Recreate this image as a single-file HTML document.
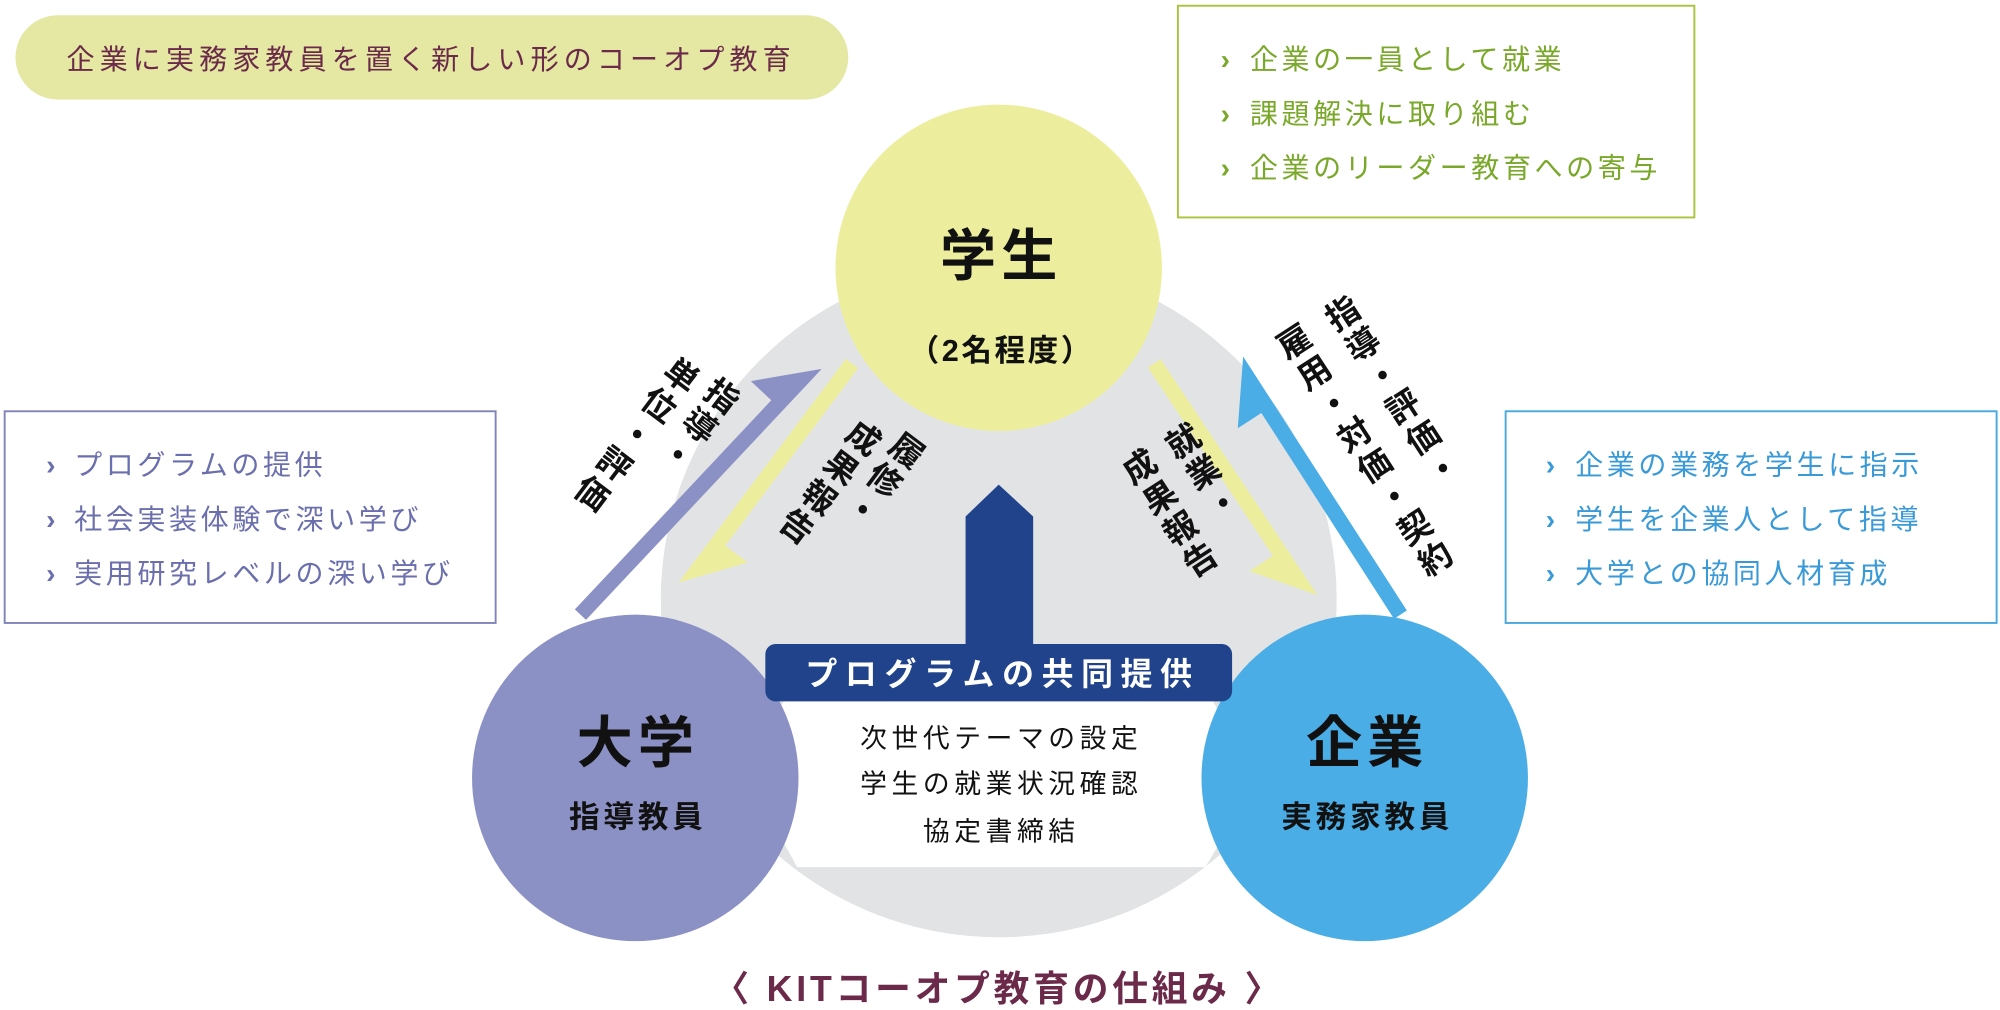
<!DOCTYPE html>
<html><head><meta charset="utf-8">
<style>
html,body{margin:0;padding:0;background:#fff;}
svg{display:block;}
text{font-family:"Liberation Sans","Noto Sans CJK JP",sans-serif;}
.v{writing-mode:vertical-rl;}
</style></head>
<body>
<svg width="2000" height="1010" viewBox="0 0 1568 792" xmlns="http://www.w3.org/2000/svg">
<rect x="12" y="12" width="653" height="66" rx="33" fill="#e4e8a2"/>
<text x="52" y="54" font-size="22" letter-spacing="4" fill="#6b2a4a">企業に実務家教員を置く新しい形のコーオプ教育</text>

<rect x="923.5" y="4.5" width="405" height="166" fill="#fff" stroke="#a8c43c" stroke-width="1.5"/>
<g font-size="22" fill="#7aa82a" letter-spacing="2.8">
<text x="957" y="54" font-weight="bold">›</text><text x="980" y="54">企業の一員として就業</text>
<text x="957" y="97" font-weight="bold">›</text><text x="980" y="97">課題解決に取り組む</text>
<text x="957" y="139" font-weight="bold">›</text><text x="980" y="139">企業のリーダー教育への寄与</text>
</g>

<rect x="3.5" y="322.5" width="385" height="166" fill="#fff" stroke="#8084bb" stroke-width="1.5"/>
<g font-size="22" fill="#6b6fad" letter-spacing="2.8">
<text x="36" y="372" font-weight="bold">›</text><text x="58" y="372">プログラムの提供</text>
<text x="36" y="415" font-weight="bold">›</text><text x="58" y="415">社会実装体験で深い学び</text>
<text x="36" y="457" font-weight="bold">›</text><text x="58" y="457">実用研究レベルの深い学び</text>
</g>

<rect x="1180.5" y="322.5" width="385" height="166" fill="#fff" stroke="#4aa8e0" stroke-width="1.5"/>
<g font-size="22" fill="#3a9ad8" letter-spacing="2.8">
<text x="1212" y="372" font-weight="bold">›</text><text x="1235" y="372">企業の業務を学生に指示</text>
<text x="1212" y="415" font-weight="bold">›</text><text x="1235" y="415">学生を企業人として指導</text>
<text x="1212" y="457" font-weight="bold">›</text><text x="1235" y="457">大学との協同人材育成</text>
</g>

<circle cx="783" cy="470" r="265" fill="#e2e3e5"/>
<circle cx="783" cy="210" r="128" fill="#ecee9d"/>

<g transform="translate(455,482) rotate(-46.8)">
<path d="M0,-6 L225,-6 L225,-28 L270,6 L0,6 Z" fill="#8b91c4"/>
</g>
<g transform="translate(668,285) rotate(126.8)">
<path d="M0,-6 L174,-6 L174,-28 L219,6 L0,6 Z" fill="#ecee9d"/>
</g>
<g transform="translate(905,285) rotate(56.4) scale(1,-1)">
<path d="M0,-6 L177,-6 L177,-28 L222,6 L0,6 Z" fill="#ecee9d"/>
</g>
<g transform="translate(1098,482) rotate(-122.8)">
<path d="M0,-6 L192,-6 L192,-28 L237,6 L0,6 Z" fill="#4aade6"/>
</g>

<polygon points="757,510 757,405 783,380 810,405 810,510" fill="#21438b"/>
<polygon points="588,613 615,548 950,548 985,613 945,680 625,680" fill="#fff"/>

<circle cx="498" cy="610" r="128" fill="#8b91c4"/>
<circle cx="1070" cy="610" r="128" fill="#4aade6"/>

<rect x="600" y="505" width="366" height="45" rx="8" fill="#21438b"/>
<text x="786" y="537" font-size="25" font-weight="bold" letter-spacing="6" fill="#fff" text-anchor="middle">プログラムの共同提供</text>

<g font-size="21" fill="#111" text-anchor="middle" letter-spacing="3.6">
<text x="785" y="586">次世代テーマの設定</text>
<text x="785" y="622">学生の就業状況確認</text>
<text x="785" y="659">協定書締結</text>
</g>

<text x="785" y="216" font-size="44" font-weight="bold" letter-spacing="4" text-anchor="middle" fill="#111">学生</text>
<text x="785" y="283" font-size="24" font-weight="bold" letter-spacing="2" text-anchor="middle" fill="#111">（2名程度）</text>
<text x="500" y="598" font-size="44" font-weight="bold" letter-spacing="4" text-anchor="middle" fill="#111">大学</text>
<text x="500" y="649" font-size="24" font-weight="bold" letter-spacing="3" text-anchor="middle" fill="#111">指導教員</text>
<text x="1072" y="598" font-size="44" font-weight="bold" letter-spacing="4" text-anchor="middle" fill="#111">企業</text>
<text x="1072" y="649" font-size="24" font-weight="bold" letter-spacing="3" text-anchor="middle" fill="#111">実務家教員</text>

<g font-size="26" font-weight="bold" fill="#111" letter-spacing="3">
<text class="v" x="1043" y="236" transform="rotate(-33 1043 236)">指導・評価・</text>
<text class="v" x="1005" y="258" transform="rotate(-33 1005 258)">雇用・対価・契約</text>
<text class="v" x="918" y="336" transform="rotate(-33 918 336)">就業・</text>
<text class="v" x="884" y="356" transform="rotate(-33 884 356)">成果報告</text>
<text class="v" x="717" y="341" transform="rotate(37 717 341)">履修・</text>
<text class="v" x="683" y="331" transform="rotate(37 683 331)">成果報告</text>
<text class="v" x="572" y="298" transform="rotate(37 572 298)">指導・</text>
<text class="v" x="540" y="282" transform="rotate(37 540 282)">単位・評価</text>
</g>

<text x="783" y="785" font-size="28" font-weight="bold" letter-spacing="3" text-anchor="middle" fill="#6b2a4a">〈 KITコーオプ教育の仕組み 〉</text>
</svg>
</body></html>
